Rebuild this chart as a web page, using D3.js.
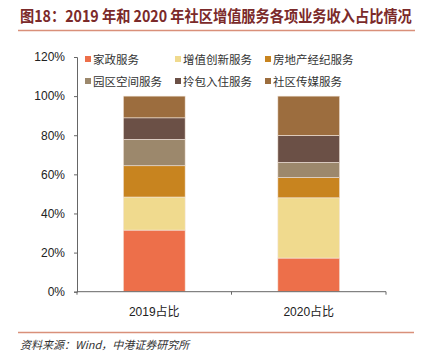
<!DOCTYPE html>
<html>
<head>
<meta charset="utf-8">
<script src="https://cdn.jsdelivr.net/npm/d3@7"></script>
<style>
  body { margin: 0; background: #fff; }
  svg { display: block; }
</style>
</head>
<body>
<script>
// data
const categories = ["2019占比", "2020占比"];
const seriesNames = ["家政服务", "增值创新服务", "房地产经纪服务", "园区空间服务", "拎包入住服务", "社区传媒服务"];
const share2019 = [31.5, 16.9, 16.0, 13.5, 11.0, 11.1];
const share2020 = [17.2, 30.8, 10.3, 7.8, 13.8, 20.1];
const seriesColors = ["#ED6F4A", "#F0DA8E", "#C8841F", "#9C886C", "#6B5046", "#9C6D3E"];
const yTicks = [0, 20, 40, 60, 80, 100, 120];

const width = 421, height = 363;
const svg = d3.select("body").append("svg").attr("width", width).attr("height", height);

// title, squeezed horizontally to fit the width it has in the reference
const title = svg.append("text")
  .attr("x", 0).attr("y", 0)
  .attr("font-family", "'Noto Sans CJK SC', sans-serif")
  .attr("font-size", 16).attr("font-weight", "bold")
  .attr("fill", "#7B2A2A")
  .text("图18：2019 年和 2020 年社区增值服务各项业务收入占比情况");
const natural = title.node().getComputedTextLength();
title.attr("transform", `translate(20,22) scale(${Math.min(1, 392 / natural)},1)`);

svg.append("line").attr("x1", 18).attr("x2", 415).attr("y1", 30.5).attr("y2", 30.5)
  .attr("stroke", "#D9907A").attr("stroke-width", 1.5);

const x = d3.scaleBand().domain(categories).range([77, 386]).paddingInner(0.6).paddingOuter(0.3);
const y = d3.scaleLinear().domain([0, 120]).range([291.7, 57]);

const rows = categories.map((c, i) => {
  const vals = i === 0 ? share2019 : share2020;
  const r = {cat: c};
  seriesNames.forEach((s, j) => r[s] = vals[j]);
  return r;
});
const stacked = d3.stack().keys(seriesNames)(rows);

svg.append("g").selectAll("g")
  .data(stacked)
  .enter().append("g")
  .attr("fill", (d, i) => seriesColors[i])
  .selectAll("rect")
  .data(d => d)
  .enter().append("rect")
  .attr("x", d => x(d.data.cat))
  .attr("width", x.bandwidth())
  .attr("y", d => y(d[1]))
  .attr("height", d => y(d[0]) - y(d[1]))
  .attr("stroke", "#f3e6dc").attr("stroke-width", 0.6);

// y axis
const yAxis = svg.append("g").attr("transform", "translate(77,0)")
  .call(d3.axisLeft(y).tickValues(yTicks).tickFormat(d => d + "%").tickSize(3).tickPadding(9));
yAxis.select(".domain").attr("stroke", "#666");
yAxis.selectAll(".tick line").attr("stroke", "#666");
yAxis.selectAll("text")
  .attr("font-family", "'Liberation Sans', Arial, sans-serif")
  .attr("font-size", 12).attr("fill", "#222");

// x axis
const xAxis = svg.append("g").attr("transform", "translate(0,291.7)");
xAxis.append("line").attr("x1", 77).attr("x2", 386).attr("stroke", "#666");
const xTickPos = [77].concat(categories.map(c => x(c) + x.bandwidth() / 2 + x.step() / 2));
xAxis.selectAll(".xt").data(xTickPos).enter().append("line")
  .attr("x1", d => d).attr("x2", d => d).attr("y1", 0).attr("y2", 3).attr("stroke", "#666");
xAxis.selectAll(".xl").data(categories).enter().append("text")
  .attr("x", d => x(d) + x.bandwidth() / 2).attr("y", 24)
  .attr("text-anchor", "middle")
  .attr("font-family", "'Liberation Sans', 'Noto Sans CJK SC', sans-serif")
  .attr("font-size", 12).attr("fill", "#222")
  .text(d => d);

// legend
const legend = svg.append("g");
const legX = [85, 175, 265], legY = [60, 82];
const item = legend.selectAll("g").data(seriesNames).enter().append("g")
  .attr("transform", (d, i) => `translate(${legX[i % 3]},${legY[Math.floor(i / 3)]})`);
item.append("rect").attr("x", 0).attr("y", -4).attr("width", 6).attr("height", 6)
  .attr("fill", (d, i) => seriesColors[i]);
item.append("text").attr("x", 8).attr("y", 4)
  .attr("font-family", "'Noto Sans CJK SC', sans-serif")
  .attr("font-size", 11.5).attr("fill", "#333")
  .text(d => d);

// footer
svg.append("line").attr("x1", 18).attr("x2", 414).attr("y1", 332.5).attr("y2", 332.5)
  .attr("stroke", "#D9907A").attr("stroke-width", 1.5);
svg.append("text").attr("x", 20).attr("y", 349)
  .attr("font-family", "'Noto Sans CJK SC', sans-serif")
  .attr("font-size", 11).attr("font-style", "italic").attr("fill", "#333")
  .text("资料来源：Wind，中港证券研究所");
</script>
</body>
</html>
